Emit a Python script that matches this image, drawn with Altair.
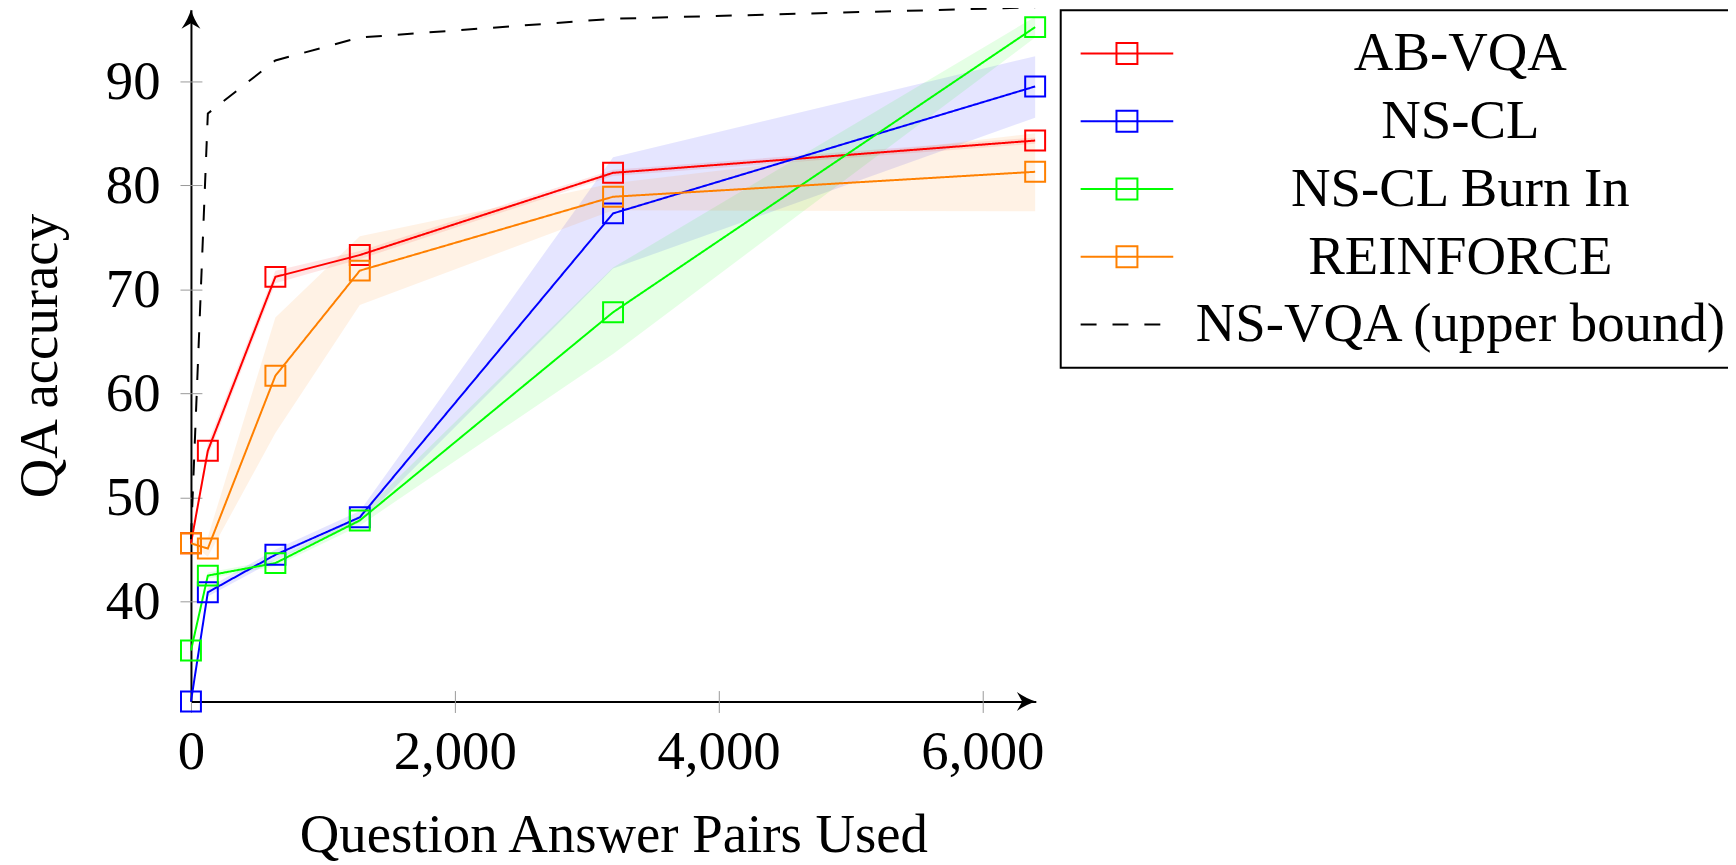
import altair as alt
import pandas as pd

FONT = "Liberation Serif"

# ---- data ----
x_vals = [0, 128, 640, 1280, 3200, 6400]
series_names = ["AB-VQA", "NS-CL", "NS-CL Burn In", "REINFORCE", "NS-VQA (upper bound)"]
series_colors = ["#ff0000", "#0000ff", "#00ff00", "#ff8000", "#000000"]

ab_vqa = [45.6, 54.5, 71.2, 73.3, 81.2, 84.3]
ab_vqa_lo = [45.6, 53.9, 70.6, 72.9, 80.9, 84.0]
ab_vqa_hi = [45.6, 55.2, 71.8, 73.7, 81.5, 84.6]

ns_cl = [30.4, 40.9, 44.5, 48.1, 77.3, 89.5]
ns_cl_lo = [30.4, 40.5, 44.0, 47.6, 72.0, 86.5]
ns_cl_hi = [30.4, 41.3, 45.0, 48.7, 82.7, 92.4]

burn_in = [35.3, 42.5, 43.7, 47.8, 67.8, 95.2]
burn_in_lo = [35.3, 42.2, 43.4, 47.3, 63.8, 94.2]
burn_in_hi = [35.3, 42.8, 44.0, 48.3, 72.1, 96.2]

reinforce = [45.6, 45.1, 61.7, 71.8, 78.9, 81.3]
reinforce_lo = [45.6, 44.3, 56.2, 68.5, 77.6, 77.5]
reinforce_hi = [45.6, 46.2, 67.3, 75.1, 80.2, 85.0]

ns_vqa = [46.0, 86.9, 92.0, 94.2, 96.0, 97.1]

y_ticks = [40, 50, 60, 70, 80, 90]
x_ticks = [0, 2000, 4000, 6000]
x_domain = [0, 6405]
y_domain = [30.4, 96.87]

rows = []
for name, ys, los, his in [
    ("AB-VQA", ab_vqa, ab_vqa_lo, ab_vqa_hi),
    ("NS-CL", ns_cl, ns_cl_lo, ns_cl_hi),
    ("NS-CL Burn In", burn_in, burn_in_lo, burn_in_hi),
    ("REINFORCE", reinforce, reinforce_lo, reinforce_hi),
    ("NS-VQA (upper bound)", ns_vqa, ns_vqa, ns_vqa),
]:
    for xv, yv, lo, hi in zip(x_vals, ys, los, his):
        rows.append({"series": name, "x": xv, "y": yv, "lo": lo, "hi": hi})
df = pd.DataFrame(rows)

arrow_x_df = pd.DataFrame({"x": [x_domain[1]], "y": [y_domain[0]]})
arrow_y_df = pd.DataFrame({"x": [x_domain[0]], "y": [y_domain[1]]})

# ---- scales ----
xscale = alt.Scale(domain=x_domain, nice=False, zero=False)
yscale = alt.Scale(domain=y_domain, nice=False, zero=False)
color_scale = alt.Scale(domain=series_names, range=series_colors)
band_scale = alt.Scale(domain=series_names[:4], range=series_colors[:4])
dash_scale = alt.Scale(domain=series_names, range=[[1, 0], [1, 0], [1, 0], [1, 0], [16, 16]])
sq = 0.226
mark_path = f"M-1,0H1M-{sq},-{sq}H{sq}V{sq}H-{sq}Z"
legend_paths = [mark_path, mark_path, mark_path, mark_path, "M-1,0H1"]
shape_scale = alt.Scale(domain=series_names, range=legend_paths)

# ---- axes ----
main_x_axis = alt.Axis(
    orient="bottom", values=x_ticks, format=",d", grid=False,
    domain=True, domainColor="black", domainWidth=2,
    ticks=False, tickSize=0, labelFont=FONT, labelFontSize=55, labelColor="black",
    labelPadding=24, labelFlush=False, labelOverlap=False,
    title="Question Answer Pairs Used", titleFont=FONT, titleFontSize=55,
    titleFontWeight="normal", titleColor="black", titlePadding=30,
)
main_y_axis = alt.Axis(
    orient="left", values=y_ticks, format="d", grid=False,
    domain=True, domainColor="black", domainWidth=2,
    ticks=False, tickSize=0, labelFont=FONT, labelFontSize=55, labelColor="black",
    labelPadding=31, labelFlush=False, labelOverlap=False,
    title="QA accuracy", titleFont=FONT, titleFontSize=55,
    titleFontWeight="normal", titleColor="black", titlePadding=37,
)
tick_x_axis = alt.Axis(
    orient="bottom", values=x_ticks, grid=False, domain=False, labels=False,
    ticks=True, tickSize=22, tickColor="#999999", tickWidth=1, offset=-11, title=None,
)
tick_y_axis = alt.Axis(
    orient="left", values=y_ticks, grid=False, domain=False, labels=False,
    ticks=True, tickSize=22, tickColor="#999999", tickWidth=1, offset=-11, title=None,
)

legend_cfg = alt.Legend(
    title=None, orient="none", legendX=873.3, legendY=0.5,
    padding=9.75, rowPadding=0, clipHeight=67.5,
    symbolOffset=9.25, symbolSize=8649, symbolStrokeWidth=2,
    symbolFillColor="transparent",
    labelOffset=287.25, labelAlign="center", labelBaseline="middle",
    labelFont=FONT, labelFontSize=55, labelColor="black", labelLimit=2000,
    strokeColor="black", fillColor="white",
)

not_upper = alt.datum.series != "NS-VQA (upper bound)"

# legend-only layer (no rows drawn); placed first so its legend settings win
legend_layer = alt.Chart(df).transform_filter("false").mark_point(
    filled=False, size=8649, strokeWidth=2, opacity=1
).encode(
    x=alt.X("x:Q", scale=xscale, axis=None),
    y=alt.Y("y:Q", scale=yscale, axis=None),
    color=alt.Color("series:N", scale=color_scale, legend=legend_cfg),
    shape=alt.Shape("series:N", scale=shape_scale, legend=legend_cfg),
    strokeDash=alt.StrokeDash("series:N", scale=dash_scale, legend=legend_cfg),
)

bands = alt.Chart(df).transform_filter(not_upper).mark_area(
    opacity=0.1, interpolate="linear"
).encode(
    x=alt.X("x:Q", scale=xscale, axis=main_x_axis),
    y=alt.Y("lo:Q", scale=yscale, axis=main_y_axis),
    y2="hi:Q",
    fill=alt.Fill("series:N", scale=band_scale, legend=None),
)

lines = alt.Chart(df).mark_line(strokeWidth=2).encode(
    x=alt.X("x:Q", scale=xscale, axis=tick_x_axis),
    y=alt.Y("y:Q", scale=yscale, axis=tick_y_axis),
    color=alt.Color("series:N", scale=color_scale, legend=None),
    strokeDash=alt.StrokeDash("series:N", scale=dash_scale, legend=None),
)

points = alt.Chart(df).transform_filter(not_upper).mark_point(
    shape="square", filled=False, size=400, strokeWidth=2, opacity=1
).encode(
    x=alt.X("x:Q", scale=xscale, axis=None),
    y=alt.Y("y:Q", scale=yscale, axis=None),
    color=alt.Color("series:N", scale=color_scale, legend=None),
)

arrow_right = alt.Chart(arrow_x_df).mark_point(
    shape="M0,0Q-0.5,-0.15,-1,-0.5L-0.72,0L-1,0.5Q-0.5,0.15,0,0Z",
    size=1444, filled=True, color="black", opacity=1, strokeWidth=0,
).encode(
    x=alt.X("x:Q", scale=xscale, axis=None),
    y=alt.Y("y:Q", scale=yscale, axis=None),
)
arrow_up = alt.Chart(arrow_y_df).mark_point(
    shape="M0,0Q-0.15,0.5,-0.5,1L0,0.72L0.5,1Q0.15,0.5,0,0Z",
    size=1444, filled=True, color="black", opacity=1, strokeWidth=0,
).encode(
    x=alt.X("x:Q", scale=xscale, axis=None),
    y=alt.Y("y:Q", scale=yscale, axis=None),
)

chart = alt.layer(
    legend_layer, bands, lines, points, arrow_right, arrow_up
).resolve_axis(
    x="independent", y="independent"
).properties(
    width=848.3,
    height=694.6,
    padding={"left": 183.7, "top": 0, "right": 695, "bottom": 162.4},
    autosize=alt.AutoSizeParams(type="none"),
    background="white",
).configure_view(stroke=None).configure_legend(strokeWidth=2)

chart.save("out.html", embed_options={"renderer": "svg", "actions": False})
